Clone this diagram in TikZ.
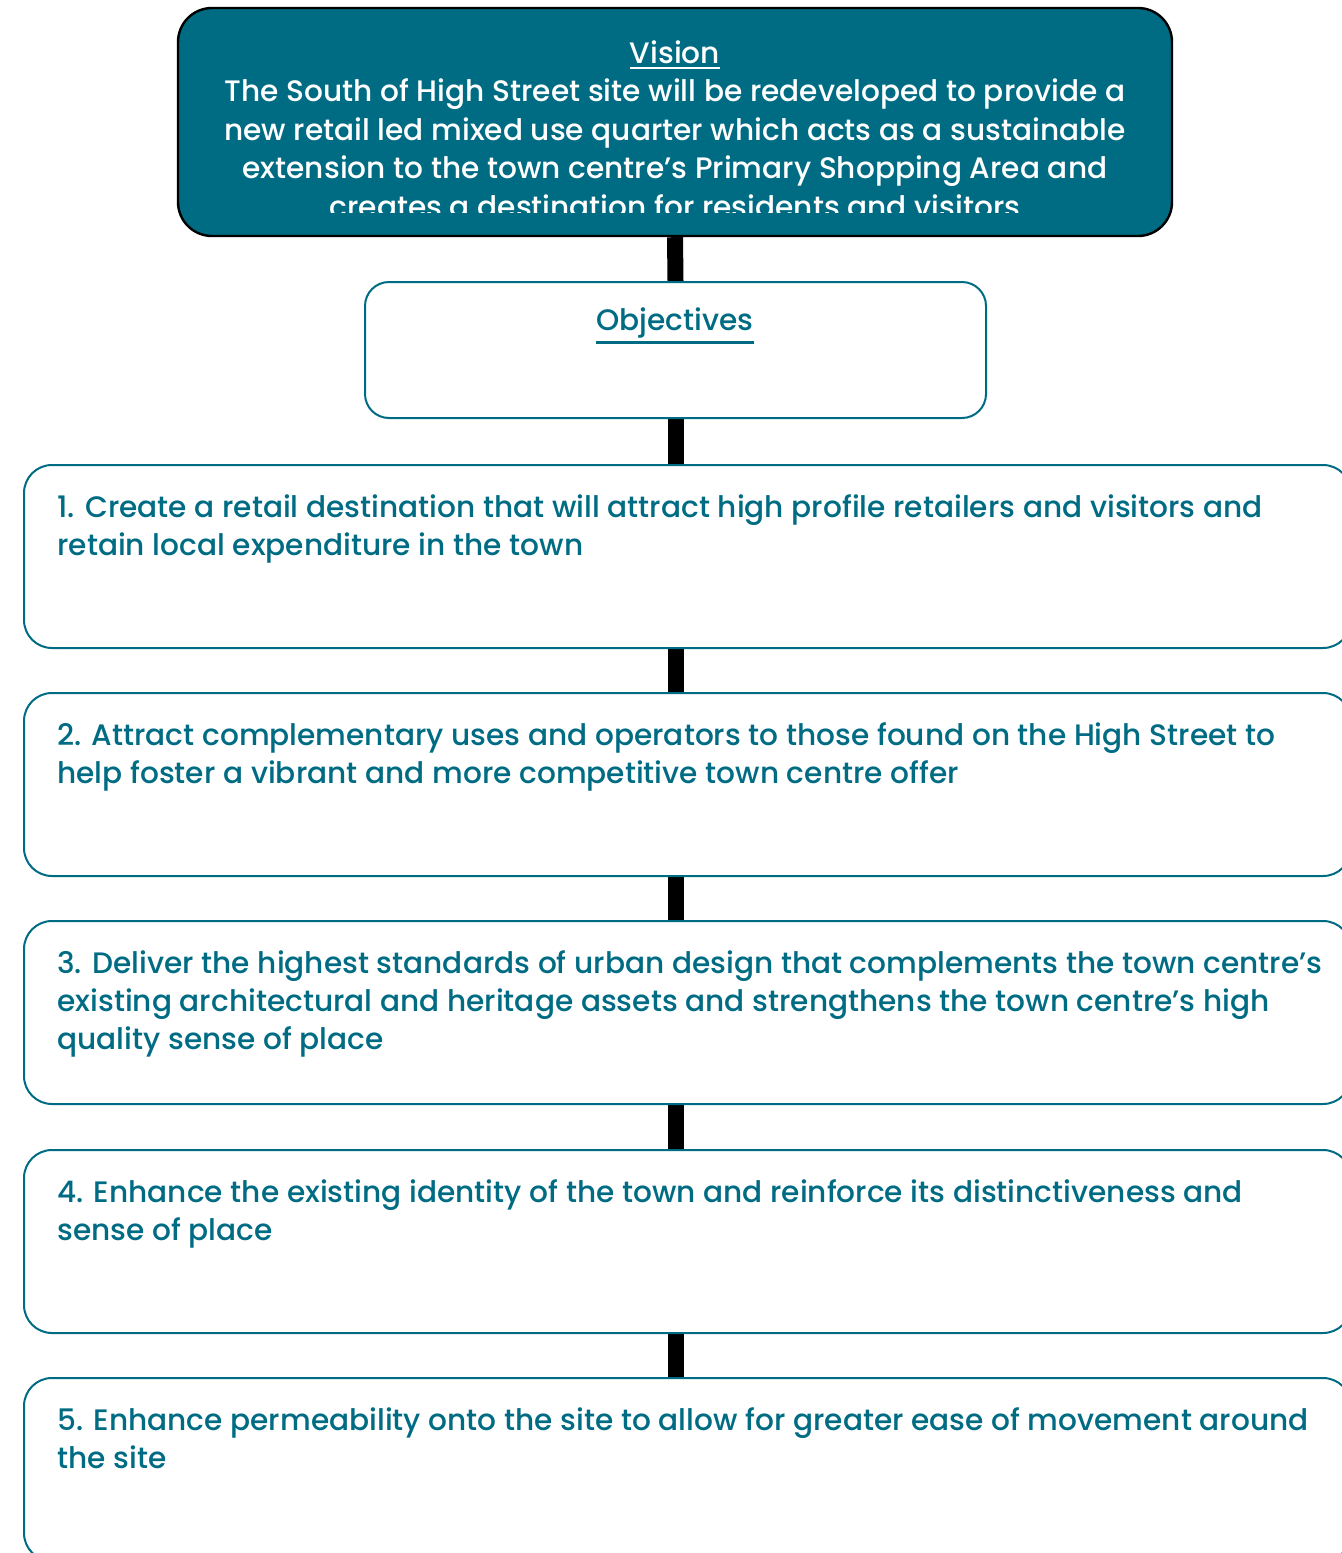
\documentclass[tikz,border=0pt]{standalone}
\usepackage{fontspec}
\setmainfont{Poppins}[UprightFont=* Medium]
\usetikzlibrary{positioning,backgrounds}

\definecolor{petrol}{RGB}{0,108,132}

% heading with a heavier rule beneath it
\newcommand{\headline}[1]{\leavevmode\vtop{\hbox{#1}\kern1.6pt\hrule height 1.3pt}}

\tikzset{
  visionbox/.style={draw=black, line width=1.2pt, fill=petrol, rounded corners=17pt,
    minimum width=497pt, minimum height=114pt, inner sep=0pt},
  headbox/.style={draw=petrol, line width=1pt, fill=white, rounded corners=12pt,
    minimum width=310.5pt, minimum height=68pt, inner sep=0pt},
  objbox/.style={draw=petrol, line width=1pt, fill=white, rounded corners=14pt,
    minimum width=663.5pt, minimum height=91.5pt, inner sep=0pt, anchor=north west},
  objtext/.style={anchor=north west, inner sep=0pt, align=left, text=petrol,
    font=\fontsize{14.8}{19}\selectfont},
  link/.style={draw=black, line width=8pt}
}

\begin{document}
\begin{tikzpicture}[x=0.5pt, y=-0.5pt]
  \useasboundingbox (0,0) rectangle (1342,1553);
  \clip (0,0) rectangle (1342,1553);

  % vision at the top
  \node[visionbox] (vision) at (675,122) {};
  \begin{scope}
    \clip (178,8) rectangle (1172,212.5);
    \node[anchor=north, inner sep=0pt, align=center, text=white,
      font=\fontsize{14.8}{19.3}\selectfont] (visiontext) at (675,40)
      {\headline{Vision}\\
       The South of High Street site will be redeveloped to provide a\\
       new retail led mixed use quarter which acts as a sustainable\\
       extension to the town centre’s Primary Shopping Area and\\
       creates a destination for residents and visitors};
  \end{scope}

  % objectives heading
  \node[headbox] (objectives) at (675.5,350) {};
  \node[anchor=base, inner sep=0pt, text=petrol, font=\fontsize{14.8}{19}\selectfont]
    (objlabel) at (675,330) {\headline{Objectives}};

  % the five objectives
  \node[objbox] (obj1) at (23,464) {};
  \node[objbox] (obj2) at (23,692) {};
  \node[objbox] (obj3) at (23,920) {};
  \node[objbox] (obj4) at (23,1149) {};
  \node[objbox] (obj5) at (23,1377) {};

  \node[objtext] (text1) at (57,494)
    {1. Create a retail destination that will attract high profile retailers and visitors and\\
     retain local expenditure in the town};
  \node[objtext] (text2) at (57,722)
    {2. Attract complementary uses and operators to those found on the High Street to\\
     help foster a vibrant and more competitive town centre offer};
  \node[objtext] (text3) at (57,950)
    {3. Deliver the highest standards of urban design that complements the town centre’s\\
     existing architectural and heritage assets and strengthens the town centre’s high\\
     quality sense of place};
  \node[objtext] (text4) at (57,1179)
    {4. Enhance the existing identity of the town and reinforce its distinctiveness and\\
     sense of place};
  \node[objtext] (text5) at (57,1407)
    {5. Enhance permeability onto the site to allow for greater ease of movement around\\
     the site};

  % connectors behind the boxes
  \begin{pgfonlayer}{background}
    \draw[link] (vision.south) -- (objectives.north);
    \draw[link] (objectives.south) -- (objectives.south |- obj1.north);
    \draw[link] (objectives.south |- obj1.south) -- (objectives.south |- obj2.north);
    \draw[link] (objectives.south |- obj2.south) -- (objectives.south |- obj3.north);
    \draw[link] (objectives.south |- obj3.south) -- (objectives.south |- obj4.north);
    \draw[link] (objectives.south |- obj4.south) -- (objectives.south |- obj5.north);
  \end{pgfonlayer}
\end{tikzpicture}
\end{document}
